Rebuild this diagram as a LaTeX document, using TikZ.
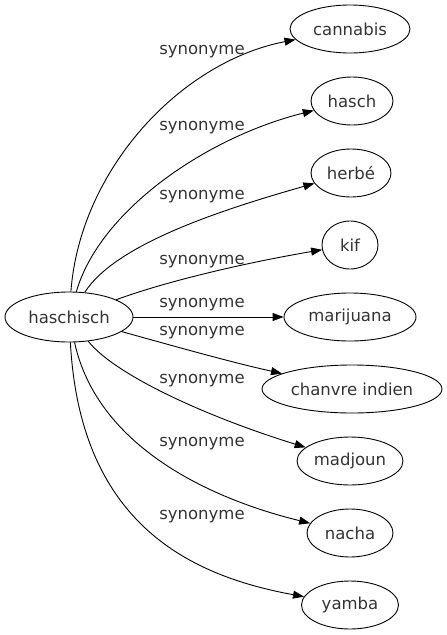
\documentclass[tikz,border=0pt]{standalone}
\usepackage{fontspec}
\setmainfont{DejaVu Sans}
\usetikzlibrary{shapes.geometric,arrows.meta}
\begin{document}
\begin{tikzpicture}[x=1pt,y=-1pt,
  word/.style={draw,ellipse,line width=0.9pt,inner sep=0pt,minimum height=48pt,font=\fontsize{16.5}{18}\selectfont,text=black!80},
  rel/.style={font=\fontsize{16.5}{18}\selectfont,text=black!80,inner sep=0pt},
  link/.style={line width=0.9pt,-{Triangle[length=11pt,width=8pt]}}]
\useasboundingbox (0,0) rectangle (447,635);
\node[word,minimum width=128pt,minimum height=50pt] (h) at (69,317) {haschisch};
\node[word,minimum width=120pt] (n1) at (350,29) {cannabis};
\node[word,minimum width=82pt] (n2) at (352,101) {hasch};
\node[word,minimum width=80pt] (n3) at (351,173) {herbé};
\node[word,minimum width=56pt] (n4) at (350,245) {kif};
\node[word,minimum width=132pt] (n5) at (350,317) {marijuana};
\node[word,minimum width=180pt] (n6) at (352,389) {chanvre indien};
\node[word,minimum width=106pt] (n7) at (350,461) {madjoun};
\node[word,minimum width=86pt] (n8) at (350,533) {nacha};
\node[word,minimum width=97pt] (n9) at (350,605) {yamba};
\node[rel] (l1) at (202,52) {synonyme};
\node[rel] (l2) at (202,128) {synonyme};
\node[rel] (l3) at (202,197) {synonyme};
\node[rel] (l4) at (202,262) {synonyme};
\node[rel] (l5) at (202,305) {synonyme};
\node[rel] (l6) at (202,333) {synonyme};
\node[rel] (l7) at (202,381) {synonyme};
\node[rel] (l8) at (202,444) {synonyme};
\node[rel] (l9) at (202,517) {synonyme};
\draw[link] (h) .. controls (80,170) and (180,62) .. (n1);
\draw[link] (h) .. controls (100,210) and (207,137) .. (n2);
\draw[link] (h) .. controls (115,245) and (217,211) .. (n3);
\draw[link] (h) .. controls (170,280) and (250,262) .. (n4);
\draw[link] (h) -- (n5);
\draw[link] (h) .. controls (170,345) and (230,362) .. (n6);
\draw[link] (h) .. controls (115,375) and (207,417) .. (n7);
\draw[link] (h) .. controls (97,445) and (207,498) .. (n8);
\draw[link] (h) .. controls (80,520) and (185,575) .. (n9);
\end{tikzpicture}
\end{document}
